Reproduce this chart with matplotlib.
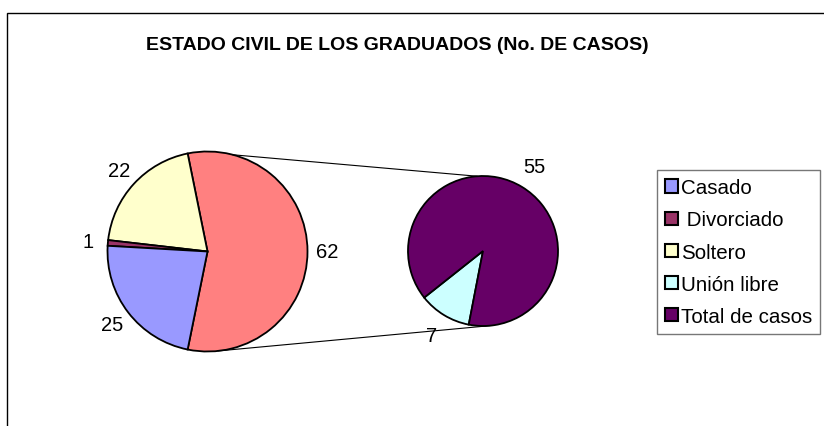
import numpy as np
import matplotlib
matplotlib.use('Agg')
import matplotlib.pyplot as plt
from matplotlib.patches import Rectangle, Patch
from matplotlib.lines import Line2D

plt.rcParams['font.family'] = ['Liberation Sans', 'DejaVu Sans']

TITLE = 'ESTADO CIVIL DE LOS GRADUADOS (No. DE CASOS)'

# main pie (counterclockwise from the right-hand "other" slice)
main_labels = ['Otros', 'Soltero', ' Divorciado', 'Casado']
main_values = [62, 22, 1, 25]
main_colors = ['#FF8080', '#FFFFCC', '#993366', '#9999FF']

# secondary pie (breakdown of the "other" slice)
sub_labels = ['Unión libre', 'Total de casos']
sub_values = [7, 55]
sub_colors = ['#CCFFFF', '#660066']

legend_labels = ['Casado', ' Divorciado', 'Soltero', 'Unión libre', 'Total de casos']
legend_colors = ['#9999FF', '#993366', '#FFFFCC', '#CCFFFF', '#660066']

W, H = 824, 427
fig = plt.figure(figsize=(W / 100, H / 100), dpi=100)
ax = fig.add_axes([0, 0, 1, 1])

# chart frame
ax.add_patch(Rectangle((6.5, -20), 900, H - 14 + 20, fill=False, lw=1.0, ec='black'))

ax.text(397, H - 45, TITLE, ha='center', va='center', fontsize=14, fontweight='bold')

c1, r1 = (207.5, H - 252.5), 100
c2, r2 = (483, H - 252), 75

total1 = sum(main_values)
start1 = -main_values[0] / total1 * 360 / 2
wedge_kw = dict(edgecolor='black', linewidth=1.3)

ax.pie(main_values, colors=main_colors, startangle=start1, counterclock=True,
       center=c1, radius=r1, wedgeprops=wedge_kw, pctdistance=1.2,
       autopct=lambda p: f'{round(p * total1 / 100)}',
       textprops=dict(fontsize=14.5), frame=True)

total2 = sum(sub_values)
ax.pie(sub_values, colors=sub_colors, startangle=218.4, counterclock=True,
       center=c2, radius=r2, wedgeprops=wedge_kw, pctdistance=1.32,
       autopct=lambda p: f'{round(p * total2 / 100)}',
       textprops=dict(fontsize=14.5), frame=True)
ax.set_xlim(0, W)
ax.set_ylim(0, H)
ax.set_aspect('equal')
ax.axis('off')

# connector lines between the pies
def pt(c, r, deg):
    a = np.radians(deg)
    return c[0] + r * np.cos(a), c[1] + r * np.sin(a)

for a1, a2 in [(75.3, 94.5), (-84.0, -84.7)]:
    p1, p2 = pt(c1, r1, a1), pt(c2, r2, a2)
    ax.add_line(Line2D([p1[0], p2[0]], [p1[1], p2[1]], color='black', lw=0.8))

handles = [Patch(facecolor=c, edgecolor='black', linewidth=1.5) for c in legend_colors]
leg = fig.legend(handles, legend_labels, loc='upper left',
                 bbox_to_anchor=(657 / W, 1 - 171 / H), fontsize=14.8,
                 frameon=True, fancybox=False, edgecolor='#555555',
                 handlelength=0.6, handleheight=0.6, handletextpad=0.15,
                 labelspacing=0.64, borderpad=0.4, borderaxespad=0)
leg.get_frame().set_linewidth(1.0)

fig.savefig('out.png', dpi=100)
